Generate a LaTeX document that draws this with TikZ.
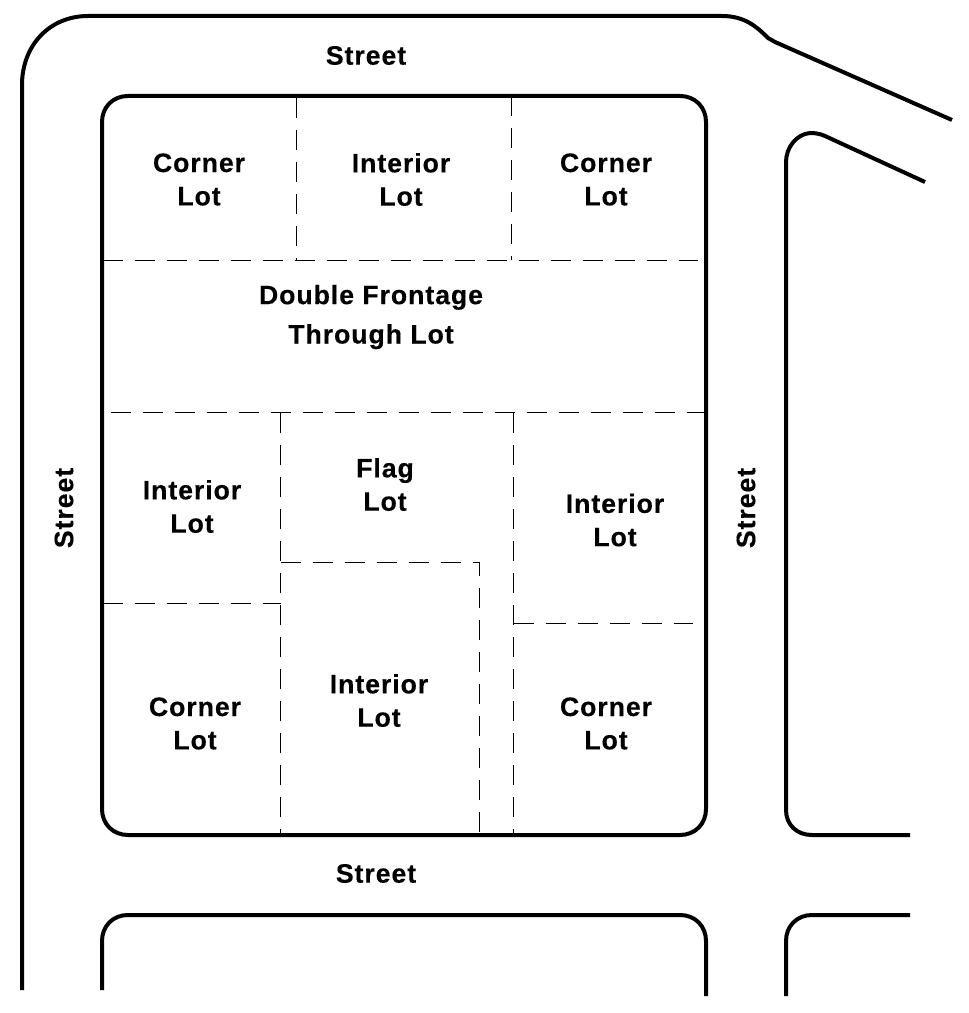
\documentclass[tikz,border=0pt]{standalone}
\usepackage{fontspec}
\setmainfont{Liberation Sans}[FakeBold=0.3,LetterSpace=3.5]
\begin{document}
\begin{tikzpicture}[x=0.75pt,y=-0.75pt,
  road/.style={line width=3pt,line join=round,line cap=butt},
  lotline/.style={line width=0.75pt,dash pattern=on 15pt off 9pt},
  lbl/.style={align=center,font=\bfseries\fontsize{20}{25}\selectfont,inner sep=0pt,text=black},
  rdlbl/.style={font=\bfseries\fontsize{20}{25}\selectfont,inner sep=0pt,text=black}]
\useasboundingbox (0,0) rectangle (969,1013);
% roads
\draw[road] (22,990) -- (22,85) .. controls (22,45) and (50,16) .. (88,16) -- (722,16)
  .. controls (745,16) and (757,27) .. (768,38) -- (775,42) -- (952,120);
\draw[road] (925,182) -- (825,136) .. controls (818,133) and (813,133) .. (810,133)
  .. controls (797,134) and (786,147) .. (786,162) -- (786,810)
  .. controls (786,825) and (797,835) .. (812,835) -- (910,835);
\draw[road] (910,915) -- (812,915) .. controls (797,915) and (786,926) .. (786,941) -- (786,996);
\draw[road] (102,990) -- (102,941) .. controls (102,926) and (113,915) .. (128,915)
  -- (680,915) .. controls (695,915) and (706,926) .. (706,941) -- (706,996);
\draw[road] (128,96) -- (680,96) .. controls (695,96) and (706,107) .. (706,122)
  -- (706,809) .. controls (706,824) and (695,835) .. (680,835) -- (128,835)
  .. controls (113,835) and (102,824) .. (102,809) -- (102,122)
  .. controls (102,107) and (113,96) .. (128,96) -- cycle;
% lot lines
\draw[lotline] (296,98) -- (296,260);
\draw[lotline] (511.5,96) -- (511.5,260);
\draw[lotline] (103,260) -- (698,260);
\draw[lotline] (111,412) -- (706,412);
\draw[lotline] (280.5,413) -- (280.5,835);
\draw[lotline] (513.5,413) -- (513.5,835);
\draw[lotline] (280.5,562) -- (479,562) -- (479,835);
\draw[lotline] (103,603) -- (280.5,603);
\draw[lotline] (513.5,623) -- (693,623);
% labels
\node[rdlbl] (s1) at (366,55.5) {Street};
\node[rdlbl] (s2) at (376,873.5) {Street};
\node[rdlbl,rotate=90] (s3) at (64,508) {Street};
\node[rdlbl,rotate=90] (s4) at (746,508) {Street};
\node[lbl] (l1) at (199,179.5) {Corner\\Lot};
\node[lbl] (l2) at (401,179.5) {Interior\\Lot};
\node[lbl] (l3) at (606,179.5) {Corner\\Lot};
\node[lbl,font=\bfseries\fontsize{20}{29.5}\selectfont] (l4) at (371,317) {Double Frontage\\Through Lot};
\node[lbl] (l5) at (192,506.5) {Interior\\Lot};
\node[lbl] (l6) at (385,484.5) {Flag\\Lot};
\node[lbl] (l7) at (615,520) {Interior\\Lot};
\node[lbl] (l8) at (195,723.5) {Corner\\Lot};
\node[lbl] (l9) at (379,700.5) {Interior\\Lot};
\node[lbl] (l10) at (606,723.5) {Corner\\Lot};
\end{tikzpicture}
\end{document}
